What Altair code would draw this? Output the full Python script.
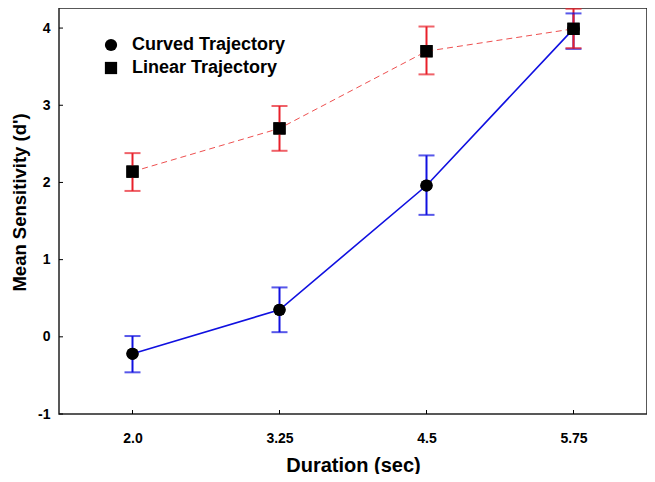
import altair as alt
import pandas as pd

durations = ["2.0", "3.25", "4.5", "5.75"]
series_names = ["Curved Trajectory", "Linear Trajectory"]
curved_mean = [-0.22, 0.35, 1.96, 3.99]
curved_lo = [-0.46, 0.06, 1.58, 3.73]
curved_hi = [0.01, 0.64, 2.35, 4.19]
linear_mean = [2.14, 2.70, 3.70, 3.99]
linear_lo = [1.89, 2.41, 3.40, 3.74]
linear_hi = [2.38, 2.99, 4.02, 4.25]
y_ticks = [-1, 0, 1, 2, 3, 4]

rows = []
for i, d in enumerate(durations):
    rows.append(dict(dur=d, series=series_names[0], mean=curved_mean[i], lo=curved_lo[i], hi=curved_hi[i]))
for i, d in enumerate(durations):
    rows.append(dict(dur=d, series=series_names[1], mean=linear_mean[i], lo=linear_lo[i], hi=linear_hi[i]))
df = pd.DataFrame(rows)
df["traj"] = df["series"]
curved = df[df.series == series_names[0]]
linear = df[df.series == series_names[1]]

W, H = 588, 406
BLUE = "#1010e0"
RED = "#e8202a"
FONT = "Liberation Sans"

xscale = alt.Scale(type="point", padding=0.5, domain=durations)
xenc = alt.X("dur:N", sort=durations, scale=xscale,
             axis=alt.Axis(title="Duration (sec)", labelAngle=0, domain=False, ticks=False,
                           labelPadding=17, titlePadding=10, labelFontSize=14,
                           labelFontWeight="bold", titleFontSize=20, titleFontWeight="bold",
                           labelFont=FONT, titleFont=FONT, labelColor="black", titleColor="black",
                           grid=False))
yscale = alt.Scale(domain=[-1, 4.26], nice=False, zero=False)
yenc = alt.Y("mean:Q", scale=yscale,
             axis=alt.Axis(title="Mean Sensitivity (d')", values=y_ticks,
                           labelExpr="'' + datum.value", titleY=194,
                           domain=False, ticks=False, labelPadding=9, titlePadding=8,
                           labelFontSize=14, labelFontWeight="bold", titleFontSize=18.5,
                           titleFontWeight="bold", labelFont=FONT, titleFont=FONT,
                           labelColor="black", titleColor="black", grid=False))

color_scale = alt.Scale(domain=series_names, range=[BLUE, RED])
shape_scale = alt.Scale(domain=series_names, range=["circle", "square"])

pts_legend = alt.Chart(df).mark_point(filled=True, size=150, opacity=1).encode(
    x=xenc, y=yenc,
    color=alt.value("black"),
    shape=alt.Shape("traj:N", scale=shape_scale,
                    legend=alt.Legend(title=None, orient="none", legendX=43, legendY=28,
                                      labelFont=FONT, labelFontSize=18, labelFontWeight="bold",
                                      labelColor="black", symbolFillColor="black",
                                      symbolStrokeColor="black", symbolSize=150, symbolOpacity=1,
                                      labelOffset=12, rowPadding=3, padding=0)))

line_lin = alt.Chart(linear).mark_line(strokeWidth=1, strokeDash=[6, 4], color="#ee5050").encode(
    x=xenc, y=yenc)
line_cur = alt.Chart(curved).mark_line(strokeWidth=1.6, color=BLUE).encode(x=xenc, y=yenc)

err = alt.Chart(df).mark_rule(strokeWidth=2).encode(
    x=alt.X("dur:N", sort=durations),
    y=alt.Y("lo:Q", scale=yscale),
    y2="hi:Q",
    color=alt.Color("series:N", scale=color_scale, legend=None))
cap_lo = alt.Chart(df).mark_tick(thickness=2, size=16, orient="horizontal").encode(
    x=alt.X("dur:N", sort=durations), y=alt.Y("lo:Q", scale=yscale),
    color=alt.Color("series:N", scale=color_scale, legend=None))
cap_hi = alt.Chart(df).mark_tick(thickness=2, size=16, orient="horizontal").encode(
    x=alt.X("dur:N", sort=durations), y=alt.Y("hi:Q", scale=yscale),
    color=alt.Color("series:N", scale=color_scale, legend=None))

pts_top = alt.Chart(df).mark_point(filled=True, size=150, opacity=1).encode(
    x=alt.X("dur:N", sort=durations), y=alt.Y("mean:Q", scale=yscale),
    color=alt.value("black"),
    shape=alt.Shape("series:N", scale=shape_scale, legend=None))

tick_df = pd.DataFrame({"t": y_ticks})
yticks = alt.Chart(tick_df).mark_rule(color="black", strokeWidth=1).encode(
    y=alt.Y("t:Q", scale=yscale), x=alt.value(0), x2=alt.value(4))
xtick_df = pd.DataFrame({"d": durations})
xticks = alt.Chart(xtick_df).mark_rule(color="black", strokeWidth=1).encode(
    x=alt.X("d:N", sort=durations, scale=xscale),
    y=alt.value(H), y2=alt.value(H - 4))

chart = alt.layer(pts_legend, line_lin, line_cur, err, cap_lo, cap_hi, pts_top, yticks, xticks).resolve_legend(
    shape="independent"
).properties(
    width=W, height=H, autosize=alt.AutoSizeParams(type="none"),
    padding={"left": 51, "top": 0, "right": 0, "bottom": 60},
    background="white"
).configure_view(stroke="#222222", strokeWidth=1.5)

chart.save("out.html", embed_options={"renderer": "svg", "actions": False})
